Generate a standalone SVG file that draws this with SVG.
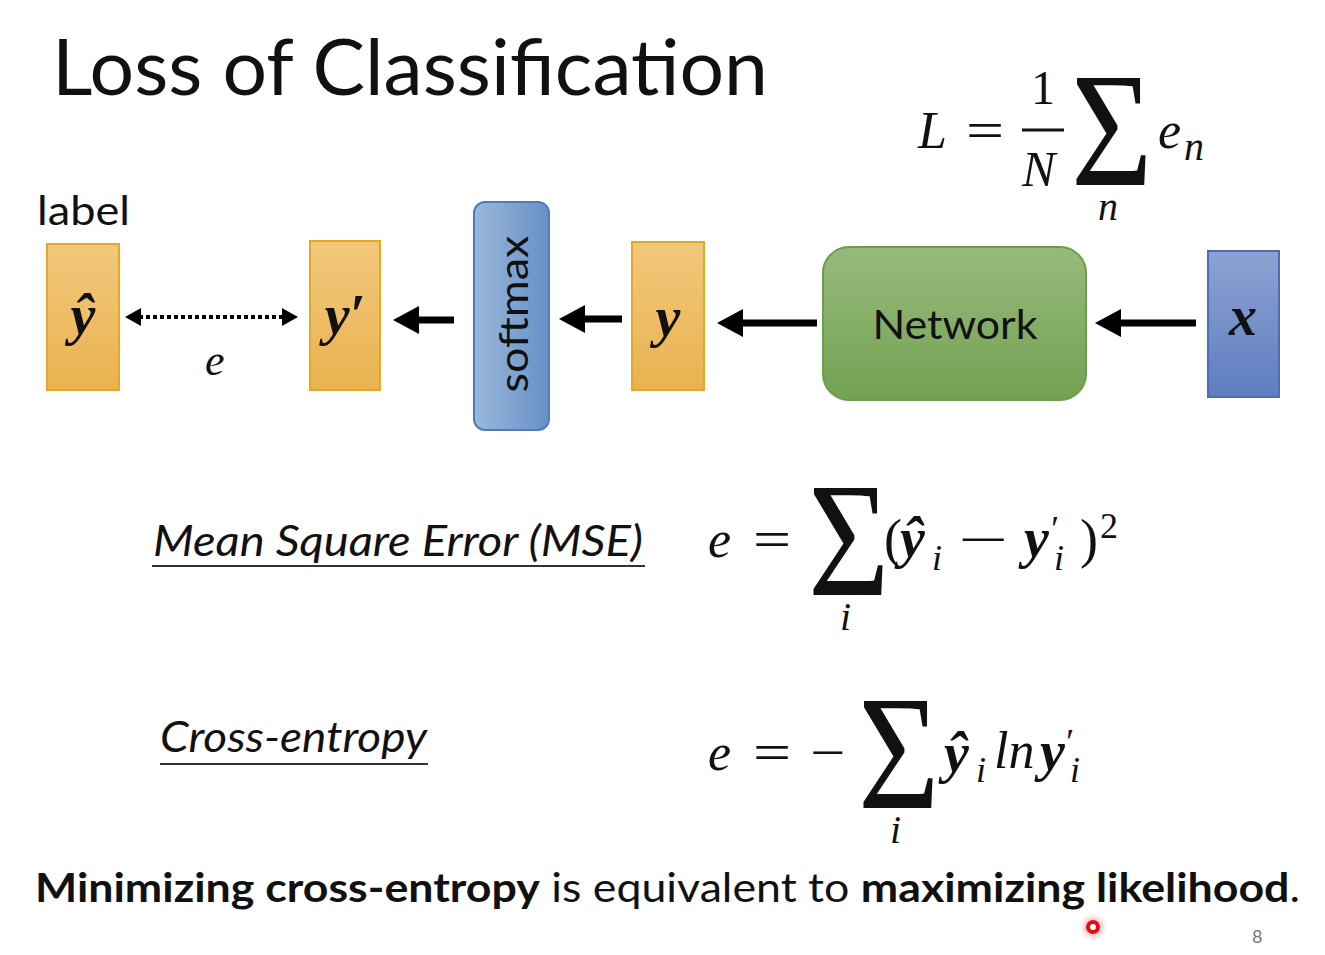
<svg xmlns="http://www.w3.org/2000/svg" width="1325" height="955" viewBox="0 0 1325 955">
<style>
.sans{font-family:Lato,"Open Sans","Liberation Sans",sans-serif;fill:#111}
.math{font-family:"Liberation Serif","DejaVu Serif",serif;font-style:italic;fill:#111}
.vec{font-family:"Liberation Serif","DejaVu Serif",serif;font-style:italic;font-weight:bold;fill:#111}
.sig{font-family:"Liberation Serif","DejaVu Serif",serif;fill:#111}
.orange{fill:url(#gOrange);stroke:#e6a822;stroke-width:2}
.arrow{stroke:#000;stroke-width:7;fill:none;marker-end:url(#ah)}
.dots{stroke:#000;stroke-width:4;stroke-dasharray:4 3;fill:none;marker-start:url(#ahs);marker-end:url(#ahs)}
.ul{stroke:#333;stroke-width:2}
</style>
<defs>
<linearGradient id="gOrange" x1="0" y1="0" x2="0" y2="1"><stop offset="0" stop-color="#f2c87c"/><stop offset="1" stop-color="#e9b24f"/></linearGradient>
<linearGradient id="gSoft" x1="0" y1="0" x2="1" y2="0"><stop offset="0" stop-color="#9ab8dc"/><stop offset="1" stop-color="#6790c6"/></linearGradient>
<linearGradient id="gNet" x1="0" y1="0" x2="0" y2="1"><stop offset="0" stop-color="#97ba7c"/><stop offset="1" stop-color="#72a252"/></linearGradient>
<linearGradient id="gX" x1="0" y1="0" x2="0" y2="1"><stop offset="0" stop-color="#8ea2d2"/><stop offset="1" stop-color="#5e7ebf"/></linearGradient>
<radialGradient id="gGlow"><stop offset="0" stop-color="#ff3030" stop-opacity="0.6"/><stop offset="1" stop-color="#ff6060" stop-opacity="0"/></radialGradient>
<marker id="ah" markerUnits="userSpaceOnUse" markerWidth="26" markerHeight="28" refX="3" refY="14" orient="auto"><path d="M0,0 L26,14 L0,28 z" fill="#000"/></marker>
<marker id="ahs" markerUnits="userSpaceOnUse" markerWidth="16" markerHeight="18" refX="2" refY="9" orient="auto-start-reverse"><path d="M0,0 L16,9 L0,18 z" fill="#000"/></marker>
</defs>
<rect width="1325" height="955" fill="#fff"/>

<text class="sans" x="52" y="95" font-size="78" textLength="716" lengthAdjust="spacingAndGlyphs">Loss of Classification</text>

<g id="formulaL">
<text class="math" x="918" y="148" font-size="52">L</text>
<text class="sig" transform="translate(966,148) scale(1.3,1)" font-size="52">=</text>
<text class="sig" x="1031" y="104" font-size="48">1</text>
<line x1="1022" y1="130" x2="1064" y2="130" stroke="#111" stroke-width="3"/>
<text class="math" x="1022" y="186" font-size="50">N</text>
<text class="sig" transform="translate(1071,185) scale(0.86,1)" font-size="163">Σ</text>
<text class="math" x="1158" y="148" font-size="52">e</text>
<text class="math" x="1184" y="160" font-size="40">n</text>
<text class="math" x="1098" y="220" font-size="40">n</text>
</g>

<text class="sans" x="37" y="225" font-size="40" textLength="93" lengthAdjust="spacingAndGlyphs">label</text>

<g id="connectors">
<line class="dots" x1="139" y1="317" x2="284" y2="317"/>
<line class="arrow" x1="454" y1="320" x2="416" y2="320"/>
<line class="arrow" x1="622" y1="319" x2="582" y2="319"/>
<line class="arrow" x1="817" y1="323" x2="740" y2="323"/>
<line class="arrow" x1="1196" y1="323" x2="1118" y2="323"/>
<text class="math" x="205" y="375" font-size="44">e</text>
</g>

<g id="yhat"><rect class="orange" x="47" y="244" width="72" height="146"/>
<text class="vec" x="83" y="334" font-size="56" text-anchor="middle">ŷ</text></g>

<g id="yprime"><rect class="orange" x="310" y="241" width="70" height="149"/>
<text class="vec" x="345" y="334" font-size="56" text-anchor="middle">y′</text></g>

<g id="softmax"><rect x="474" y="202" width="75" height="228" rx="11" fill="url(#gSoft)" stroke="#4f7db6" stroke-width="2"/>
<text class="sans" transform="translate(528,314) rotate(-90)" font-size="40" text-anchor="middle" textLength="157" lengthAdjust="spacingAndGlyphs">softmax</text></g>

<g id="y"><rect class="orange" x="632" y="242" width="72" height="148"/>
<text class="vec" x="668" y="336" font-size="56" text-anchor="middle">y</text></g>

<g id="network"><rect x="823" y="247" width="263" height="153" rx="26" fill="url(#gNet)" stroke="#6a9e48" stroke-width="2"/>
<text class="sans" x="955" y="339" font-size="41" text-anchor="middle" textLength="165" lengthAdjust="spacingAndGlyphs">Network</text></g>

<g id="x"><rect x="1208" y="251" width="71" height="146" fill="url(#gX)" stroke="#4a6fb8" stroke-width="2"/>
<text class="vec" x="1243" y="335" font-size="56" text-anchor="middle">x</text></g>

<g id="mse">
<text class="sans" x="153" y="556" font-size="42" font-style="italic" textLength="490" lengthAdjust="spacingAndGlyphs">Mean Square Error (MSE)</text>
<line class="ul" x1="152" y1="566" x2="645" y2="566"/>
<text class="math" x="708" y="557" font-size="52">e</text>
<text class="sig" transform="translate(753,557) scale(1.3,1)" font-size="52">=</text>
<text class="sig" transform="translate(808,595) scale(0.86,1)" font-size="163">Σ</text>
<text class="math" x="840" y="630" font-size="40">i</text>
<text class="sig" x="884" y="557" font-size="54">(</text>
<text class="vec" x="900" y="557" font-size="56">ŷ</text>
<text class="math" x="932" y="570" font-size="36">i</text>
<text class="sig" transform="translate(958,557) scale(1.7,1)" font-size="52">−</text>
<text class="vec" x="1024" y="557" font-size="56">y</text>
<text class="math" x="1049" y="541" font-size="36">′</text>
<text class="math" x="1054" y="570" font-size="36">i</text>
<text class="sig" x="1080" y="557" font-size="54">)</text>
<text class="sig" x="1100" y="538" font-size="36">2</text>
</g>

<g id="ce">
<text class="sans" x="160" y="752" font-size="42" font-style="italic" textLength="267" lengthAdjust="spacingAndGlyphs">Cross-entropy</text>
<line class="ul" x1="160" y1="764" x2="428" y2="764"/>
<text class="math" x="708" y="770" font-size="52">e</text>
<text class="sig" transform="translate(753,770) scale(1.3,1)" font-size="52">=</text>
<text class="sig" transform="translate(810,770) scale(1.2,1)" font-size="52">−</text>
<text class="sig" transform="translate(858,808) scale(0.86,1)" font-size="163">Σ</text>
<text class="math" x="890" y="843" font-size="40">i</text>
<text class="vec" x="944" y="772" font-size="56">ŷ</text>
<text class="math" x="976" y="782" font-size="36">i</text>
<text class="math" x="994" y="768" font-size="52">ln</text>
<text class="vec" x="1040" y="770" font-size="56">y</text>
<text class="math" x="1064" y="754" font-size="36">′</text>
<text class="math" x="1070" y="782" font-size="36">i</text>
</g>

<text class="sans" x="35" y="902" font-size="40" textLength="1265" lengthAdjust="spacingAndGlyphs"><tspan font-weight="bold">Minimizing cross-entropy</tspan> is equivalent to <tspan font-weight="bold">maximizing likelihood</tspan>.</text>

<text x="1252" y="943" font-family="Lato,'Liberation Sans',sans-serif" font-size="18" fill="#777">8</text>

<circle cx="1093" cy="927" r="14" fill="url(#gGlow)"/>
<circle cx="1093" cy="927" r="5" fill="#fff" stroke="#e01010" stroke-width="4"/>
</svg>
